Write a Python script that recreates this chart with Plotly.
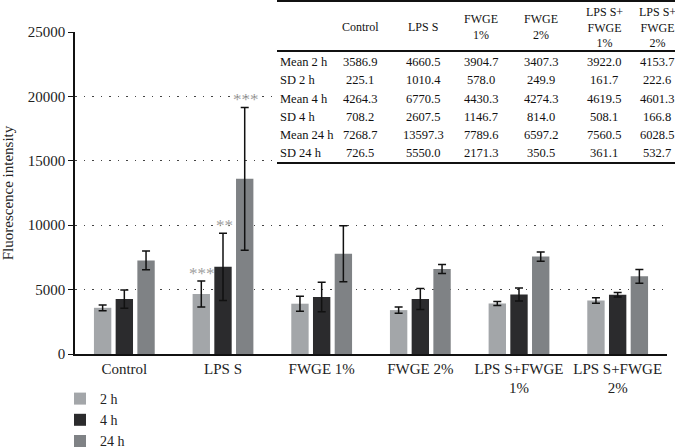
import plotly.graph_objects as go

# ---------------- data ----------------
categories = ["Control", "LPS S", "FWGE 1%", "FWGE 2%", "LPS S+FWGE 1%", "LPS S+FWGE 2%"]
tick_labels = ["Control", "LPS S", "FWGE 1%", "FWGE 2%", "LPS S+FWGE<br>1%", "LPS S+FWGE<br>2%"]
table_headers = ["Control", "LPS S", "FWGE<br>1%", "FWGE<br>2%", "LPS S+<br>FWGE<br>1%", "LPS S+<br>FWGE<br>2%"]

mean_2h = [3586.9, 4660.5, 3904.7, 3407.3, 3922.0, 4153.7]
sd_2h = [225.1, 1010.4, 578.0, 249.9, 161.7, 222.6]
mean_4h = [4264.3, 6770.5, 4430.3, 4274.3, 4619.5, 4601.3]
sd_4h = [708.2, 2607.5, 1146.7, 814.0, 508.1, 166.8]
mean_24h = [7268.7, 13597.3, 7789.6, 6597.2, 7560.5, 6028.5]
sd_24h = [726.5, 5550.0, 2171.3, 350.5, 361.1, 532.7]

series_names = ["2 h", "4 h", "24 h"]
series_colors = ["#a3a6a9", "#2b2b2d", "#7f8285"]

# significance marks: (category, series index, text)
sig_marks = [("LPS S", 0, "***"), ("LPS S", 1, "**"), ("LPS S", 2, "***")]

row_labels = ["Mean 2 h", "SD 2 h", "Mean 4 h", "SD 4 h", "Mean 24 h", "SD 24 h"]
table_rows = [mean_2h, sd_2h, mean_4h, sd_4h, mean_24h, sd_24h]

FONT = "Liberation Serif"

# ---------------- layout geometry (pixels) ----------------
W, H = 675, 448
L, R, T, B = 75, 8, 32, 94
PW, PH = W - L - R, H - T - B


def px_x(px):
    return (px - L) / PW


def px_y(py):
    return (H - B - py) / PH


fig = go.Figure()
means = [mean_2h, mean_4h, mean_24h]
sds = [sd_2h, sd_4h, sd_24h]
for name, color, m, s in zip(series_names, series_colors, means, sds):
    fig.add_trace(go.Bar(
        name=name, x=categories, y=m, marker=dict(color=color, line=dict(width=0)),
        error_y=dict(type="data", array=s, visible=True, color="#111111",
                     thickness=1.5, width=4),
    ))

annotations = []
# significance asterisks
bar_step_px = 22
for cat, si, txt in sig_marks:
    ci = categories.index(cat)
    top = means[si][ci] + sds[si][ci]
    annotations.append(dict(
        x=cat, y=top, xref="x", yref="y", text=txt, showarrow=False,
        xshift=(si - 1) * bar_step_px + 1, yanchor="bottom", yshift=-4,
        font=dict(family=FONT, size=17, color="#a0a0a0"),
    ))

# table
col_centers = [360, 423, 481, 541, 604, 657]
row_ys = [62, 80, 99, 117, 135, 153]
for cx, hdr in zip(col_centers, table_headers):
    annotations.append(dict(
        x=px_x(cx), y=px_y(27), xref="paper", yref="paper", text=hdr,
        showarrow=False, xanchor="center", yanchor="middle",
        font=dict(family=FONT, size=12, color="#111111"),
    ))
for ry, lab, vals in zip(row_ys, row_labels, table_rows):
    annotations.append(dict(
        x=px_x(278), y=px_y(ry), xref="paper", yref="paper", text=lab,
        showarrow=False, xanchor="left", yanchor="middle",
        font=dict(family=FONT, size=12.5, color="#111111"),
    ))
    for cx, v in zip(col_centers, vals):
        annotations.append(dict(
            x=px_x(cx), y=px_y(ry), xref="paper", yref="paper", text=f"{v:.1f}",
            showarrow=False, xanchor="center", yanchor="middle",
            font=dict(family=FONT, size=12.5, color="#111111"),
        ))

shapes = [
    dict(type="rect", xref="paper", yref="paper", x0=px_x(274), x1=px_x(676),
         y0=px_y(165), y1=px_y(-2), fillcolor="white", line=dict(width=0),
         layer="above"),
]
for ly, lw in [(1, 2), (51, 2), (163, 2)]:
    shapes.append(dict(type="line", xref="paper", yref="paper",
                       x0=px_x(277), x1=px_x(675), y0=px_y(ly), y1=px_y(ly),
                       line=dict(color="#111111", width=lw), layer="above"))

fig.update_layout(
    width=W, height=H,
    margin=dict(l=L, r=R, t=T, b=B, autoexpand=False),
    paper_bgcolor="white", plot_bgcolor="white",
    barmode="group", bargap=0.34, bargroupgap=0.2,
    font=dict(family=FONT, size=15, color="#222222"),
    showlegend=True,
    legend=dict(x=px_x(60), y=px_y(383), xanchor="left", yanchor="top",
                orientation="v", font=dict(family=FONT, size=14, color="#222222"),
                bgcolor="rgba(0,0,0,0)", itemclick=False, tracegroupgap=0),
    annotations=annotations,
    shapes=shapes,
    xaxis=dict(
        tickmode="array", tickvals=categories, ticktext=tick_labels,
        showline=True, linecolor="#111111", linewidth=1.5,
        ticks="", showgrid=False, tickfont=dict(family=FONT, size=15, color="#222222"),
        fixedrange=True, automargin=False,
    ),
    yaxis=dict(
        range=[0, 25000], tickvals=[0, 5000, 10000, 15000, 20000, 25000],
        ticktext=["0", "5000", "10000", "15000", "20000", "25000"],
        showline=True, linecolor="#111111", linewidth=1.5,
        ticks="outside", ticklen=5, tickwidth=1.2, tickcolor="#111111",
        showgrid=True, gridcolor="#444444", gridwidth=1.3, griddash="1.5px,7px",
        zeroline=False, automargin=False,
        title=dict(text="Fluorescence intensity",
                   font=dict(family=FONT, size=15, color="#222222")),
        tickfont=dict(family=FONT, size=15, color="#222222"),
        fixedrange=True,
    ),
)

fig.write_html("out.html", config={"displayModeBar": False},
               post_script="document.body.style.margin='0';")
